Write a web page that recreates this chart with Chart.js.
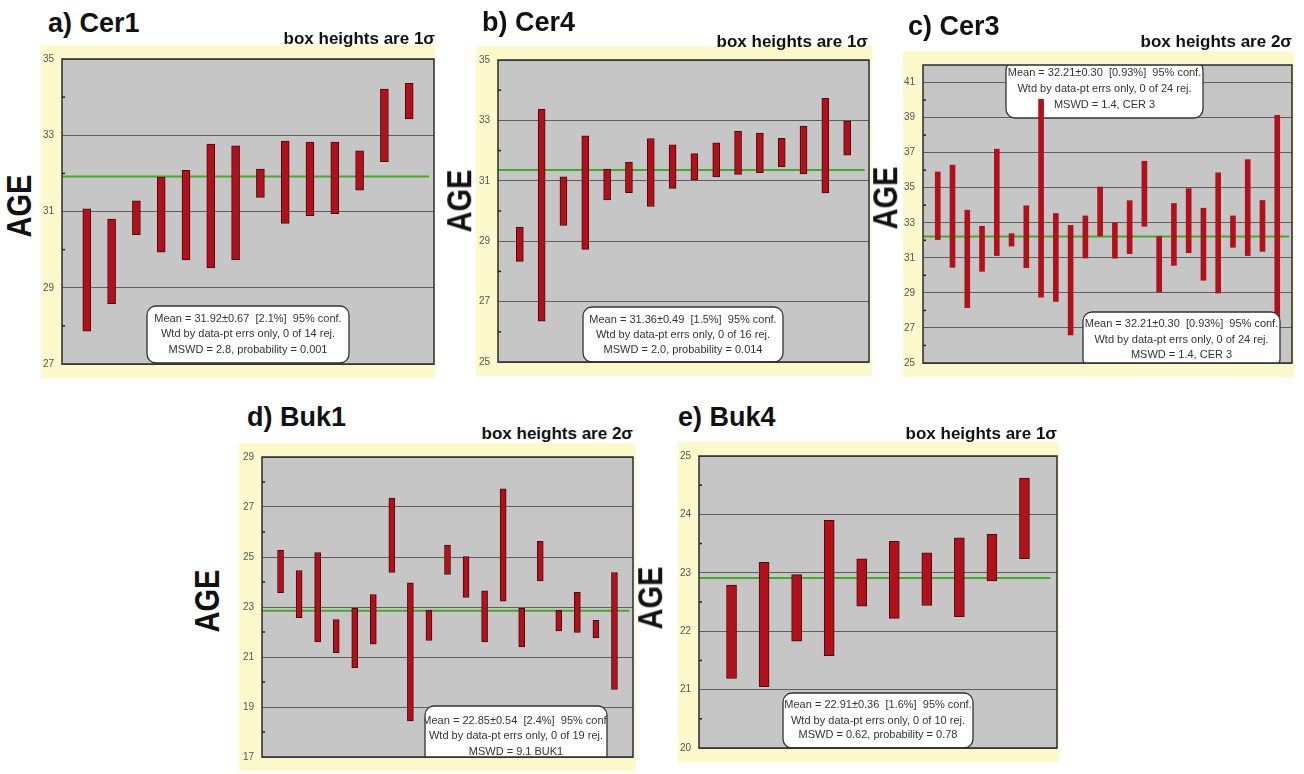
<!DOCTYPE html>
<html>
<head>
<meta charset="utf-8">
<script src="https://cdn.jsdelivr.net/npm/chart.js@4.4.1/dist/chart.umd.min.js"></script>
<style>
  body { margin: 0; width: 1304px; height: 774px; background: #fff; position: relative; overflow: hidden;
         font-family: "Liberation Sans", Arial, Helvetica, sans-serif; }
  .title { position: absolute; z-index: 2; font-weight: bold; font-size: 27px; line-height: 1; white-space: nowrap; color: #111; }
  .note { position: absolute; z-index: 2; font-weight: bold; font-size: 17px; line-height: 1; white-space: nowrap; color: #111; }
  .age { position: absolute; z-index: 2; font-weight: bold; font-size: 29px; line-height: 1; color: #111;
         transform: translate(-50%, -50%) rotate(-90deg) scale(1, 1.2); }
  canvas { position: absolute; z-index: 1; background: #fcf9cc; }
</style>
</head>
<body>
<script>
// a) Cer1 - box heights 1 sigma
const cer1Low  = [27.86, 28.58, 30.39, 29.93, 29.73, 29.52, 29.73, 31.37, 30.69, 30.89, 30.94, 31.56, 32.31, 33.43];
const cer1High = [31.07, 30.80, 31.28, 31.90, 32.08, 32.77, 32.72, 32.11, 32.85, 32.82, 32.82, 32.59, 34.21, 34.36];
const cer1Mean = 31.92;
const cer1Ticks = [27, 29, 31, 33, 35];

// b) Cer4
const cer4Low  = [28.33, 26.35, 29.52, 28.73, 30.37, 30.61, 30.15, 30.75, 31.03, 31.13, 31.21, 31.27, 31.46, 31.23, 30.60, 31.85];
const cer4High = [29.47, 33.37, 31.13, 32.49, 31.39, 31.62, 32.40, 32.19, 31.90, 32.26, 32.64, 32.58, 32.41, 32.81, 33.73, 32.98];
const cer4Mean = 31.36;
const cer4Ticks = [25, 27, 29, 31, 33, 35];

// c) Cer3 - box heights 2 sigma
const cer3Low  = [32.04, 30.46, 28.16, 30.23, 31.13, 31.67, 30.44, 28.76, 28.51, 26.60, 30.99, 32.25,
                  30.98, 31.24, 32.80, 29.06, 30.57, 31.29, 29.72, 28.99, 31.60, 31.13, 31.37, 26.50];
const cer3High = [35.90, 36.29, 33.72, 32.80, 37.20, 32.38, 33.97, 40.04, 33.53, 32.85, 33.39, 35.04,
                  33.00, 34.26, 36.51, 32.22, 34.10, 34.95, 33.83, 35.85, 33.39, 36.60, 34.27, 39.13];
const cer3Mean = 32.21;
const cer3Ticks = [25, 27, 29, 31, 33, 35, 37, 39, 41];

// d) Buk1
const buk1Low  = [23.57, 22.57, 21.60, 21.17, 20.57, 21.51, 24.38, 18.44, 21.66, 24.30, 23.38, 21.60, 23.23, 21.40, 24.04, 22.04, 21.98, 21.76, 19.70];
const buk1High = [25.27, 24.46, 25.18, 22.50, 22.95, 23.50, 27.36, 23.97, 22.87, 25.48, 25.02, 23.65, 27.73, 22.95, 25.63, 22.87, 23.59, 22.47, 24.38];
const buk1Mean = 22.85;
const buk1Ticks = [17, 19, 21, 23, 25, 27, 29];

// e) Buk4
const buk4Low  = [21.19, 21.05, 21.83, 21.58, 22.43, 22.22, 22.44, 22.25, 22.86, 23.24];
const buk4High = [22.79, 23.18, 22.97, 23.90, 23.24, 23.54, 23.34, 23.60, 23.66, 24.62];
const buk4Mean = 22.91;
const buk4Ticks = [20, 21, 22, 23, 24, 25];

const RED = '#b0111b';
const GREEN = '#46a82c';
const PLOT_BG = '#c6c6c6';
const FONT = '"Liberation Sans", Arial, Helvetica, sans-serif';

const panels = [
  {
    title: 'a) Cer1', titlePos: [48, 10], note: 'box heights are 1σ', noteRight: 435, noteTop: 30,
    agePos: [20, 206],
    low: cer1Low, high: cer1High, mean: cer1Mean, ticks: cer1Ticks, min: 27, max: 35,
    box: {x: 41, y: 45, w: 394, h: 333}, axisW: 21, pad: {t: 4, r: 1, b: 6}, barW: 8, edge: true,
    stats: [{x: 106, y: 261, w: 202, h: 57, lines: [13, 28, 44],
             text: ['Mean = 31.92±0.67  [2.1%]  95% conf.', 'Wtd by data-pt errs only, 0 of 14 rej.', 'MSWD = 2.8, probability = 0.001']}]
  },
  {
    title: 'b) Cer4', titlePos: [482, 9], note: 'box heights are 1σ', noteRight: 868, noteTop: 33,
    agePos: [460, 201],
    low: cer4Low, high: cer4High, mean: cer4Mean, ticks: cer4Ticks, min: 25, max: 35,
    box: {x: 476, y: 46, w: 396, h: 330}, axisW: 22, pad: {t: 3, r: 3, b: 5}, barW: 7, edge: true,
    stats: [{x: 107, y: 261, w: 200, h: 55, lines: [13, 28, 43],
             text: ['Mean = 31.36±0.49  [1.5%]  95% conf.', 'Wtd by data-pt errs only, 0 of 16 rej.', 'MSWD = 2.0, probability = 0.014']}]
  },
  {
    title: 'c) Cer3', titlePos: [908, 13], note: 'box heights are 2σ', noteRight: 1292, noteTop: 33,
    agePos: [886, 198],
    low: cer3Low, high: cer3High, mean: cer3Mean, ticks: cer3Ticks, min: 25, max: 42,
    box: {x: 903, y: 51, w: 391, h: 326}, axisW: 20, pad: {t: 2, r: 2, b: 5}, barW: 5, edge: false,
    stats: [
      {x: 103, y: 10, w: 197, h: 57, lines: [12, 28, 44], behind: true,
       text: ['Mean = 32.21±0.30  [0.93%]  95% conf.', 'Wtd by data-pt errs only, 0 of 24 rej.', 'MSWD = 1.4, CER 3']},
      {x: 180, y: 261, w: 197, h: 56, lines: [12, 28, 43],
       text: ['Mean = 32.21±0.30  [0.93%]  95% conf.', 'Wtd by data-pt errs only, 0 of 24 rej.', 'MSWD = 1.4, CER 3']}
    ]
  },
  {
    title: 'd) Buk1', titlePos: [247, 404], note: 'box heights are 2σ', noteRight: 633, noteTop: 425,
    agePos: [208, 601],
    low: buk1Low, high: buk1High, mean: buk1Mean, ticks: buk1Ticks, min: 17, max: 29,
    box: {x: 239, y: 443, w: 397, h: 328}, axisW: 23, pad: {t: 3, r: 3, b: 3}, barW: 6, edge: true,
    stats: [{x: 186, y: 263, w: 182, h: 64, lines: [15, 30, 46],
             text: ['Mean = 22.85±0.54  [2.4%]  95% conf.', 'Wtd by data-pt errs only, 0 of 19 rej.', 'MSWD = 9.1 BUK1']}]
  },
  {
    title: 'e) Buk4', titlePos: [678, 404], note: 'box heights are 1σ', noteRight: 1057, noteTop: 425,
    agePos: [651, 598],
    low: buk4Low, high: buk4High, mean: buk4Mean, ticks: buk4Ticks, min: 20, max: 25,
    box: {x: 678, y: 442, w: 381, h: 320}, axisW: 21, pad: {t: 3, r: 2, b: 5}, barW: 10, edge: true,
    stats: [{x: 105, y: 251, w: 190, h: 55, lines: [12, 28, 42],
             text: ['Mean = 22.91±0.36  [1.6%]  95% conf.', 'Wtd by data-pt errs only, 0 of 10 rej.', 'MSWD = 0.62, probability = 0.78']}]
  }
];

function addText(cls, text, style) {
  const el = document.createElement('div');
  el.className = cls;
  el.textContent = text;
  Object.assign(el.style, style);
  document.body.appendChild(el);
}

function drawStatBox(chart, s) {
  const ctx = chart.ctx;
  const a = chart.chartArea;
  const r = 9;
  ctx.save();
  ctx.beginPath();
  ctx.rect(a.left, a.top, a.right - a.left, a.bottom - a.top);
  ctx.clip();
  ctx.beginPath();
  ctx.moveTo(s.x + r, s.y);
  ctx.arcTo(s.x + s.w, s.y, s.x + s.w, s.y + s.h, r);
  ctx.arcTo(s.x + s.w, s.y + s.h, s.x, s.y + s.h, r);
  ctx.arcTo(s.x, s.y + s.h, s.x, s.y, r);
  ctx.arcTo(s.x, s.y, s.x + s.w, s.y, r);
  ctx.closePath();
  ctx.fillStyle = '#fff';
  ctx.fill();
  ctx.lineWidth = 1.3;
  ctx.strokeStyle = '#333';
  ctx.stroke();
  ctx.clip();
  ctx.fillStyle = '#333';
  ctx.font = '11px ' + FONT;
  ctx.textAlign = 'center';
  ctx.textBaseline = 'middle';
  s.text.forEach((t, i) => ctx.fillText(t, s.x + s.w / 2, s.y + s.lines[i]));
  ctx.restore();
}

function buildPanel(p) {
  addText('title', p.title, {left: p.titlePos[0] + 'px', top: p.titlePos[1] + 'px'});
  addText('note', p.note, {right: (1304 - p.noteRight) + 'px', top: p.noteTop + 'px'});
  addText('age', 'AGE', {left: p.agePos[0] + 'px', top: p.agePos[1] + 'px'});

  const canvas = document.createElement('canvas');
  canvas.width = p.box.w;
  canvas.height = p.box.h;
  canvas.style.left = p.box.x + 'px';
  canvas.style.top = p.box.y + 'px';
  document.body.appendChild(canvas);

  const n = p.low.length;
  const bars = p.low.map((lo, i) => ({x: i + 1, y: [lo, p.high[i]]}));

  const deco = {
    id: 'deco',
    beforeDraw(chart) {
      const {ctx, chartArea: a} = chart;
      ctx.save();
      ctx.fillStyle = PLOT_BG;
      ctx.fillRect(a.left, a.top, a.right - a.left, a.bottom - a.top);
      ctx.restore();
    },
    beforeDatasetsDraw(chart) {
      p.stats.filter(s => s.behind).forEach(s => drawStatBox(chart, s));
    },
    afterDatasetsDraw(chart) {
      p.stats.filter(s => !s.behind).forEach(s => drawStatBox(chart, s));
      const {ctx, chartArea: a} = chart;
      const y = chart.scales.y;
      ctx.save();
      // small minor ticks on the left edge
      ctx.strokeStyle = '#222';
      ctx.lineWidth = 1.5;
      for (let i = 0; i < p.ticks.length - 1; i++) {
        const py = y.getPixelForValue((p.ticks[i] + p.ticks[i + 1]) / 2);
        ctx.beginPath();
        ctx.moveTo(a.left, py);
        ctx.lineTo(a.left + 3, py);
        ctx.stroke();
      }
      ctx.strokeStyle = '#2b2b2b';
      ctx.lineWidth = 1.5;
      ctx.strokeRect(a.left, a.top, a.right - a.left, a.bottom - a.top);
      ctx.restore();
    }
  };

  new Chart(canvas, {
    type: 'bar',
    data: {
      datasets: [
        {
          type: 'bar',
          data: bars,
          backgroundColor: RED,
          borderColor: p.edge ? '#4a0a0d' : RED,
          borderWidth: p.edge ? 1 : 0,
          borderSkipped: false,
          barThickness: p.barW,
          order: 1
        },
        {
          type: 'line',
          data: [{x: 0, y: p.mean}, {x: n + 0.8, y: p.mean}],
          borderColor: GREEN,
          borderWidth: 2,
          pointRadius: 0,
          order: 2
        }
      ]
    },
    options: {
      responsive: false,
      animation: false,
      devicePixelRatio: 1,
      layout: {padding: {top: p.pad.t, right: p.pad.r, bottom: p.pad.b, left: 0}},
      plugins: {legend: {display: false}, tooltip: {enabled: false}},
      scales: {
        x: {type: 'linear', min: 0, max: n + 1, offset: false, display: false},
        y: {
          min: p.min,
          max: p.max,
          afterBuildTicks: axis => { axis.ticks = p.ticks.map(v => ({value: v})); },
          afterFit: axis => { axis.width = p.axisW; },
          border: {display: false},
          grid: {color: '#5e5e5e', lineWidth: 1, drawTicks: false},
          ticks: {color: '#555', padding: 8, font: {family: FONT, size: 10}}
        }
      }
    },
    plugins: [deco]
  });
}

panels.forEach(buildPanel);
</script>
</body>
</html>
